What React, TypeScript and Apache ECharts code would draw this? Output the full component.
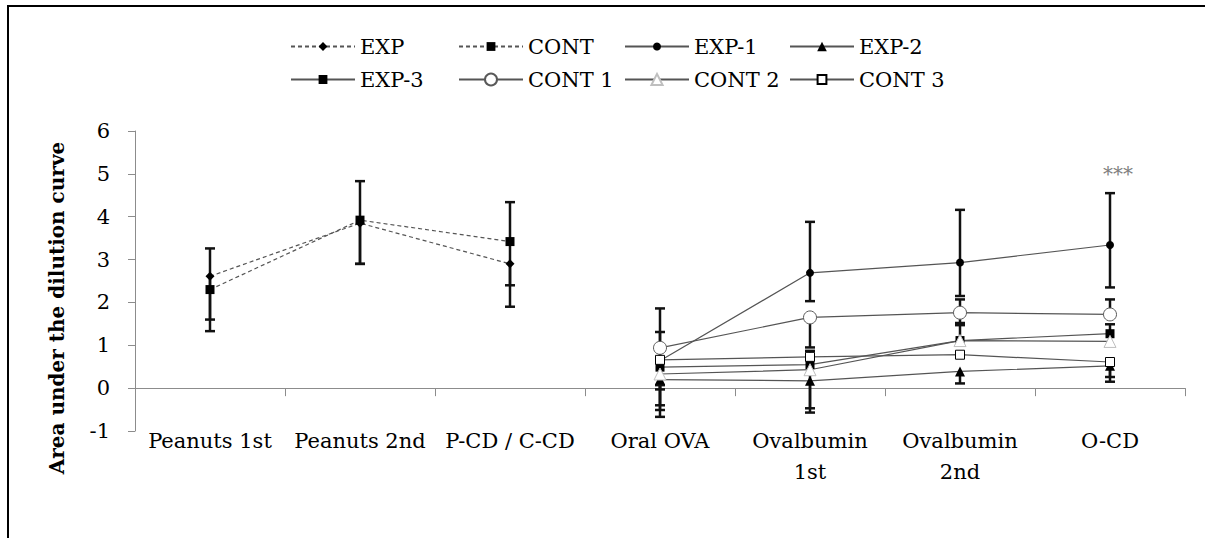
import React, { useEffect, useRef } from "react";
import * as echarts from "echarts";

const categories = [
  "Peanuts 1st",
  "Peanuts 2nd",
  "P-CD / C-CD",
  "Oral OVA",
  "Ovalbumin\n1st",
  "Ovalbumin\n2nd",
  "O-CD",
];
const yTicks = { min: -1, max: 6, interval: 1 };

const N = null;
// values
const expVals = [2.61, 3.85, 2.9, N, N, N, N];
const contVals = [2.3, 3.92, 3.42, N, N, N, N];
const exp1Vals = [N, N, N, 0.64, 2.69, 2.93, 3.34];
const exp2Vals = [N, N, N, 0.2, 0.17, 0.39, 0.52];
const exp3Vals = [N, N, N, 0.49, 0.55, 1.11, 1.27];
const cont1Vals = [N, N, N, 0.94, 1.65, 1.76, 1.72];
const cont2Vals = [N, N, N, 0.33, 0.43, 1.11, 1.09];
const cont3Vals = [N, N, N, 0.66, 0.73, 0.78, 0.61];
// error bars (plus / minus deltas, null = not drawn)
const expPlus = [N, N, N, N, N, N, N];
const expMinus = [1.01, 0.95, 1.0, N, N, N, N];
const contPlus = [0.96, 0.91, 0.92, N, N, N, N];
const contMinus = [0.97, 1.02, 1.02, N, N, N, N];
const exp1Plus = [N, N, N, 0.67, 1.19, 1.23, 1.21];
const exp1Minus = [N, N, N, 0.67, 0.66, 0.78, 0.99];
const exp2Plus = [N, N, N, N, N, N, N];
const exp2Minus = [N, N, N, 0.87, 0.74, 0.28, 0.37];
const exp3Plus = [N, N, N, N, N, 0.41, 0.22];
const exp3Minus = [N, N, N, 0.89, 1.02, N, N];
const cont1Plus = [N, N, N, 0.92, N, 0.31, 0.35];
const cont1Minus = [N, N, N, 0.87, 0.7, 0.29, N];
const cont2Plus = [N, N, N, N, N, N, N];
const cont2Minus = [N, N, N, 0.84, N, N, N];
const cont3Plus = [N, N, N, N, 0.14, N, N];
const cont3Minus = [N, N, N, N, N, N, 0.35];

const starLabel = "***";
const starPoint = [6, 5.0];

const FONT = "DejaVu Serif";
const LINE = "#555555";

type Def = {
  name: string;
  vals: (number | null)[];
  plus: (number | null)[];
  minus: (number | null)[];
  dashed: boolean;
  symbol: string;
  size: number;
  fill: string;
  border: string;
  borderWidth: number;
};

const defs: Def[] = [
  { name: "EXP", vals: expVals, plus: expPlus, minus: expMinus, dashed: true, symbol: "diamond", size: 9, fill: "#000", border: "#000", borderWidth: 0 },
  { name: "CONT", vals: contVals, plus: contPlus, minus: contMinus, dashed: true, symbol: "rect", size: 9, fill: "#000", border: "#000", borderWidth: 0 },
  { name: "EXP-1", vals: exp1Vals, plus: exp1Plus, minus: exp1Minus, dashed: false, symbol: "circle", size: 8, fill: "#000", border: "#000", borderWidth: 0 },
  { name: "EXP-2", vals: exp2Vals, plus: exp2Plus, minus: exp2Minus, dashed: false, symbol: "triangle", size: 10, fill: "#000", border: "#000", borderWidth: 0 },
  { name: "EXP-3", vals: exp3Vals, plus: exp3Plus, minus: exp3Minus, dashed: false, symbol: "rect", size: 9, fill: "#000", border: "#000", borderWidth: 0 },
  { name: "CONT 1", vals: cont1Vals, plus: cont1Plus, minus: cont1Minus, dashed: false, symbol: "circle", size: 13, fill: "#fff", border: "#595959", borderWidth: 1 },
  { name: "CONT 2", vals: cont2Vals, plus: cont2Plus, minus: cont2Minus, dashed: false, symbol: "triangle", size: 12, fill: "#fff", border: "#bfbfbf", borderWidth: 1 },
  { name: "CONT 3", vals: cont3Vals, plus: cont3Plus, minus: cont3Minus, dashed: false, symbol: "rect", size: 9, fill: "#fff", border: "#000", borderWidth: 1 },
];

const legendLefts = [290, 458, 624, 789];
const legendTops = [36, 69];

export default function App() {
  const ref = useRef<HTMLDivElement>(null);
  useEffect(() => {
    if (!ref.current) return;
    const chart = echarts.init(ref.current, null, { renderer: "svg" });

    const errData: any[] = [];
    defs.forEach((d) => {
      d.vals.forEach((v, i) => {
        if (v == null) return;
        const p = d.plus[i];
        const m = d.minus[i];
        if (p == null && m == null) return;
        errData.push([
          i,
          m != null ? v - m : v,
          p != null ? v + p : v,
          m != null ? 1 : 0,
          p != null ? 1 : 0,
        ]);
      });
    });

    const lineSeries = defs.map((d) => ({
      name: d.name,
      type: "line",
      data: d.vals,
      z: 3,
      connectNulls: false,
      symbol: d.symbol,
      symbolSize: d.size,
      showAllSymbol: true,
      lineStyle: { color: LINE, width: 1.2, type: d.dashed ? [4, 3] : "solid" },
      itemStyle: {
        color: d.fill,
        borderColor: d.border,
        borderWidth: d.borderWidth,
        opacity: 1,
      },
      emphasis: { disabled: true },
      markPoint:
        d.name === "EXP-1"
          ? {
              symbol: "circle",
              symbolSize: 1,
              itemStyle: { color: "rgba(0,0,0,0)" },
              label: {
                show: true,
                position: "inside",
                formatter: starLabel,
                color: "#808080",
                fontSize: 20,
                fontFamily: FONT,
                offset: [8, 0],
              },
              data: [{ coord: starPoint }],
            }
          : undefined,
    }));

    const legends = defs.map((d, k) => ({
      data: [d.name],
      left: legendLefts[k % 4],
      top: legendTops[Math.floor(k / 4)],
      padding: 0,
      itemWidth: 64,
      itemHeight: Math.max(10, d.size + 2),
      selectedMode: false,
      textStyle: { fontFamily: FONT, fontSize: 21, color: "#000" },
    }));

    chart.setOption({
      animation: false,
      grid: { left: 135, right: 20, top: 131, bottom: 107 },
      legend: legends,
      xAxis: {
        type: "category",
        data: categories,
        axisLine: { onZero: true, lineStyle: { color: "#8c8c8c", width: 1 } },
        axisTick: { show: true, length: 8, lineStyle: { color: "#8c8c8c" } },
        axisLabel: {
          fontFamily: FONT,
          fontSize: 21,
          color: "#000",
          margin: -6,
          lineHeight: 31,
          interval: 0,
        },
        splitLine: { show: false },
      },
      yAxis: {
        type: "value",
        min: yTicks.min,
        max: yTicks.max,
        interval: yTicks.interval,
        axisLine: { show: true, lineStyle: { color: "#8c8c8c" } },
        axisTick: { show: true, length: 7, lineStyle: { color: "#8c8c8c" } },
        axisLabel: { fontFamily: FONT, fontSize: 21, color: "#000", margin: 25 },
        splitLine: { show: false },
      },
      graphic: [
        {
          type: "rect",
          shape: { x: 8, y: 6, width: 1260, height: 600 },
          style: { fill: "none", stroke: "#000", lineWidth: 2 },
          silent: true,
        },
        {
          type: "text",
          x: 57,
          y: 308,
          rotation: Math.PI / 2,
          style: {
            text: "Area under the dilution curve",
            fontFamily: FONT,
            fontSize: 20,
            fontWeight: "bold",
            fill: "#000",
            align: "center",
            verticalAlign: "middle",
          },
          silent: true,
        },
      ],
      series: [
        {
          type: "custom",
          name: "err",
          z: 2,
          silent: true,
          data: errData,
          encode: { x: 0, y: [1, 2] },
          renderItem: (params: any, api: any) => {
            const x = api.value(0);
            const lo = api.coord([x, api.value(1)]);
            const hi = api.coord([x, api.value(2)]);
            const capLo = api.value(3);
            const capHi = api.value(4);
            const w = 5;
            const style = { stroke: "#111", lineWidth: 2.5, fill: "none" };
            const children: any[] = [
              { type: "line", shape: { x1: lo[0], y1: lo[1], x2: hi[0], y2: hi[1] }, style },
            ];
            if (capLo)
              children.push({ type: "line", shape: { x1: lo[0] - w, y1: lo[1], x2: lo[0] + w, y2: lo[1] }, style });
            if (capHi)
              children.push({ type: "line", shape: { x1: hi[0] - w, y1: hi[1], x2: hi[0] + w, y2: hi[1] }, style });
            return { type: "group", children };
          },
        },
        ...lineSeries,
      ],
    });
    return () => chart.dispose();
  }, []);
  return (
    <div
      ref={ref}
      style={{ position: "fixed", left: 0, top: 0, width: 1205, height: 538, background: "#fff" }}
    />
  );
}
